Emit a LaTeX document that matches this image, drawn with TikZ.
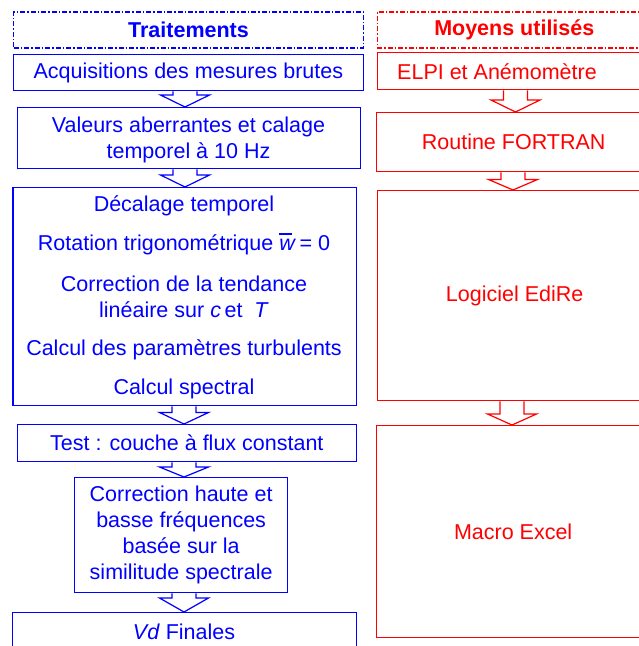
\documentclass[tikz,border=0pt]{standalone}
\usepackage{fontspec}
\setmainfont{Liberation Sans}
\usetikzlibrary{calc}
\newcommand\blockarr[5]{% color, from, to, x (pt), head length
  \draw[#1, line width=1.2pt, fill=white, line join=miter]
    let \p1=(#2.south), \p2=(#3.north) in
    (#4pt-12pt,\y1) -- (#4pt-12pt,\y2+#5pt) -- (#4pt-24.5pt,\y2+#5pt) -- (#4pt,\y2)
    -- (#4pt+24.5pt,\y2+#5pt) -- (#4pt+12pt,\y2+#5pt) -- (#4pt+12pt,\y1);
}
\newcommand\barw{\leavevmode\rlap{\raisebox{15.5pt}{\rule{13pt}{1.2pt}}}\textit{w}}
\begin{document}
\begin{tikzpicture}[x=1pt,y=-1pt,
  every node/.style={font=\fontsize{21.5}{26}\selectfont, inner sep=0pt, align=center},
  bbox/.style={draw=blue, text=blue, line width=1.3pt, anchor=north west},
  rbox/.style={draw=red, text=red, line width=1.3pt, anchor=north west},
  bhead/.style={draw=blue, text=blue, line width=1.6pt, anchor=north west,
    dash pattern=on 5pt off 2pt on 1.5pt off 2pt, font=\fontsize{21.5}{26}\selectfont\bfseries},
  rhead/.style={draw=red, text=red, line width=1.6pt, anchor=north west,
    dash pattern=on 5pt off 2pt on 1.5pt off 2pt, font=\fontsize{21.5}{26}\selectfont\bfseries},
  btext/.style={text=blue},
  rtext/.style={text=red}]
\useasboundingbox (0,0) rectangle (639,646);
\fill[white] (0,0) rectangle (639,646);

% left column
\node[bhead, minimum width=350pt, minimum height=36pt] (h1) at (12.7,11) {Traitements};
\node[bbox, minimum width=350pt, minimum height=36pt] (acq) at (12.7,54) {Acquisitions des mesures brutes};
\node[bbox, minimum width=343pt, minimum height=61pt] (val) at (17,107) {};
\node[btext] (valt) at (188.5,140) {Valeurs aberrantes et calage\\temporel à 10 Hz};
\node[bbox, minimum width=343.4pt, minimum height=218pt] (big) at (12.3,187) {};
\node[btext] (t1) at (184,206) {Décalage temporel};
\node[btext] (t2) at (184,244) {Rotation trigonométrique \barw\,= 0};
\node[btext] (t3) at (184,297) {Correction de la tendance\\linéaire sur \textit{c}\,et \;\textit{T}};
\node[btext] (t4) at (184,350) {Calcul des paramètres turbulents};
\node[btext] (t5) at (184,389) {Calcul spectral};
\node[bbox, minimum width=339pt, minimum height=37pt] (test) at (16.7,424) {Test : couche à flux constant};
\node[bbox, minimum width=213pt, minimum height=115pt] (corr) at (74,477) {Correction haute et\\basse fréquences\\basée sur la\\similitude spectrale};
\node[bbox, minimum width=344pt, minimum height=40pt] (vd) at (12,612) {};
\node[btext] (vdt) at (184,632) {\textit{Vd} Finales};

\blockarr{blue}{acq}{val}{185}{12}
\blockarr{blue}{val}{big}{185}{12}
\blockarr{blue}{big}{test}{184}{11.5}
\blockarr{blue}{test}{corr}{184}{10}
\blockarr{blue}{corr}{vd}{184}{14}

% right column
\node[rhead, minimum width=274pt, minimum height=36pt] (h2) at (376.5,11) {Moyens utilisés};
\node[rbox, minimum width=274pt, minimum height=37pt] (elpi) at (376.5,52) {};
\node[rtext] (elpit) at (497,72) {ELPI et Anémomètre};
\node[rbox, minimum width=274pt, minimum height=59pt] (fort) at (376,112) {Routine FORTRAN};
\node[rbox, minimum width=274pt, minimum height=210pt] (edi) at (377,190) {Logiciel EdiRe};
\node[rbox, minimum width=274pt, minimum height=212pt] (mac) at (375.5,425) {Macro Excel};

\blockarr{red}{elpi}{fort}{515.5}{12}
\blockarr{red}{fort}{edi}{513}{10.5}
\blockarr{red}{edi}{mac}{512}{11}
\end{tikzpicture}
\end{document}
